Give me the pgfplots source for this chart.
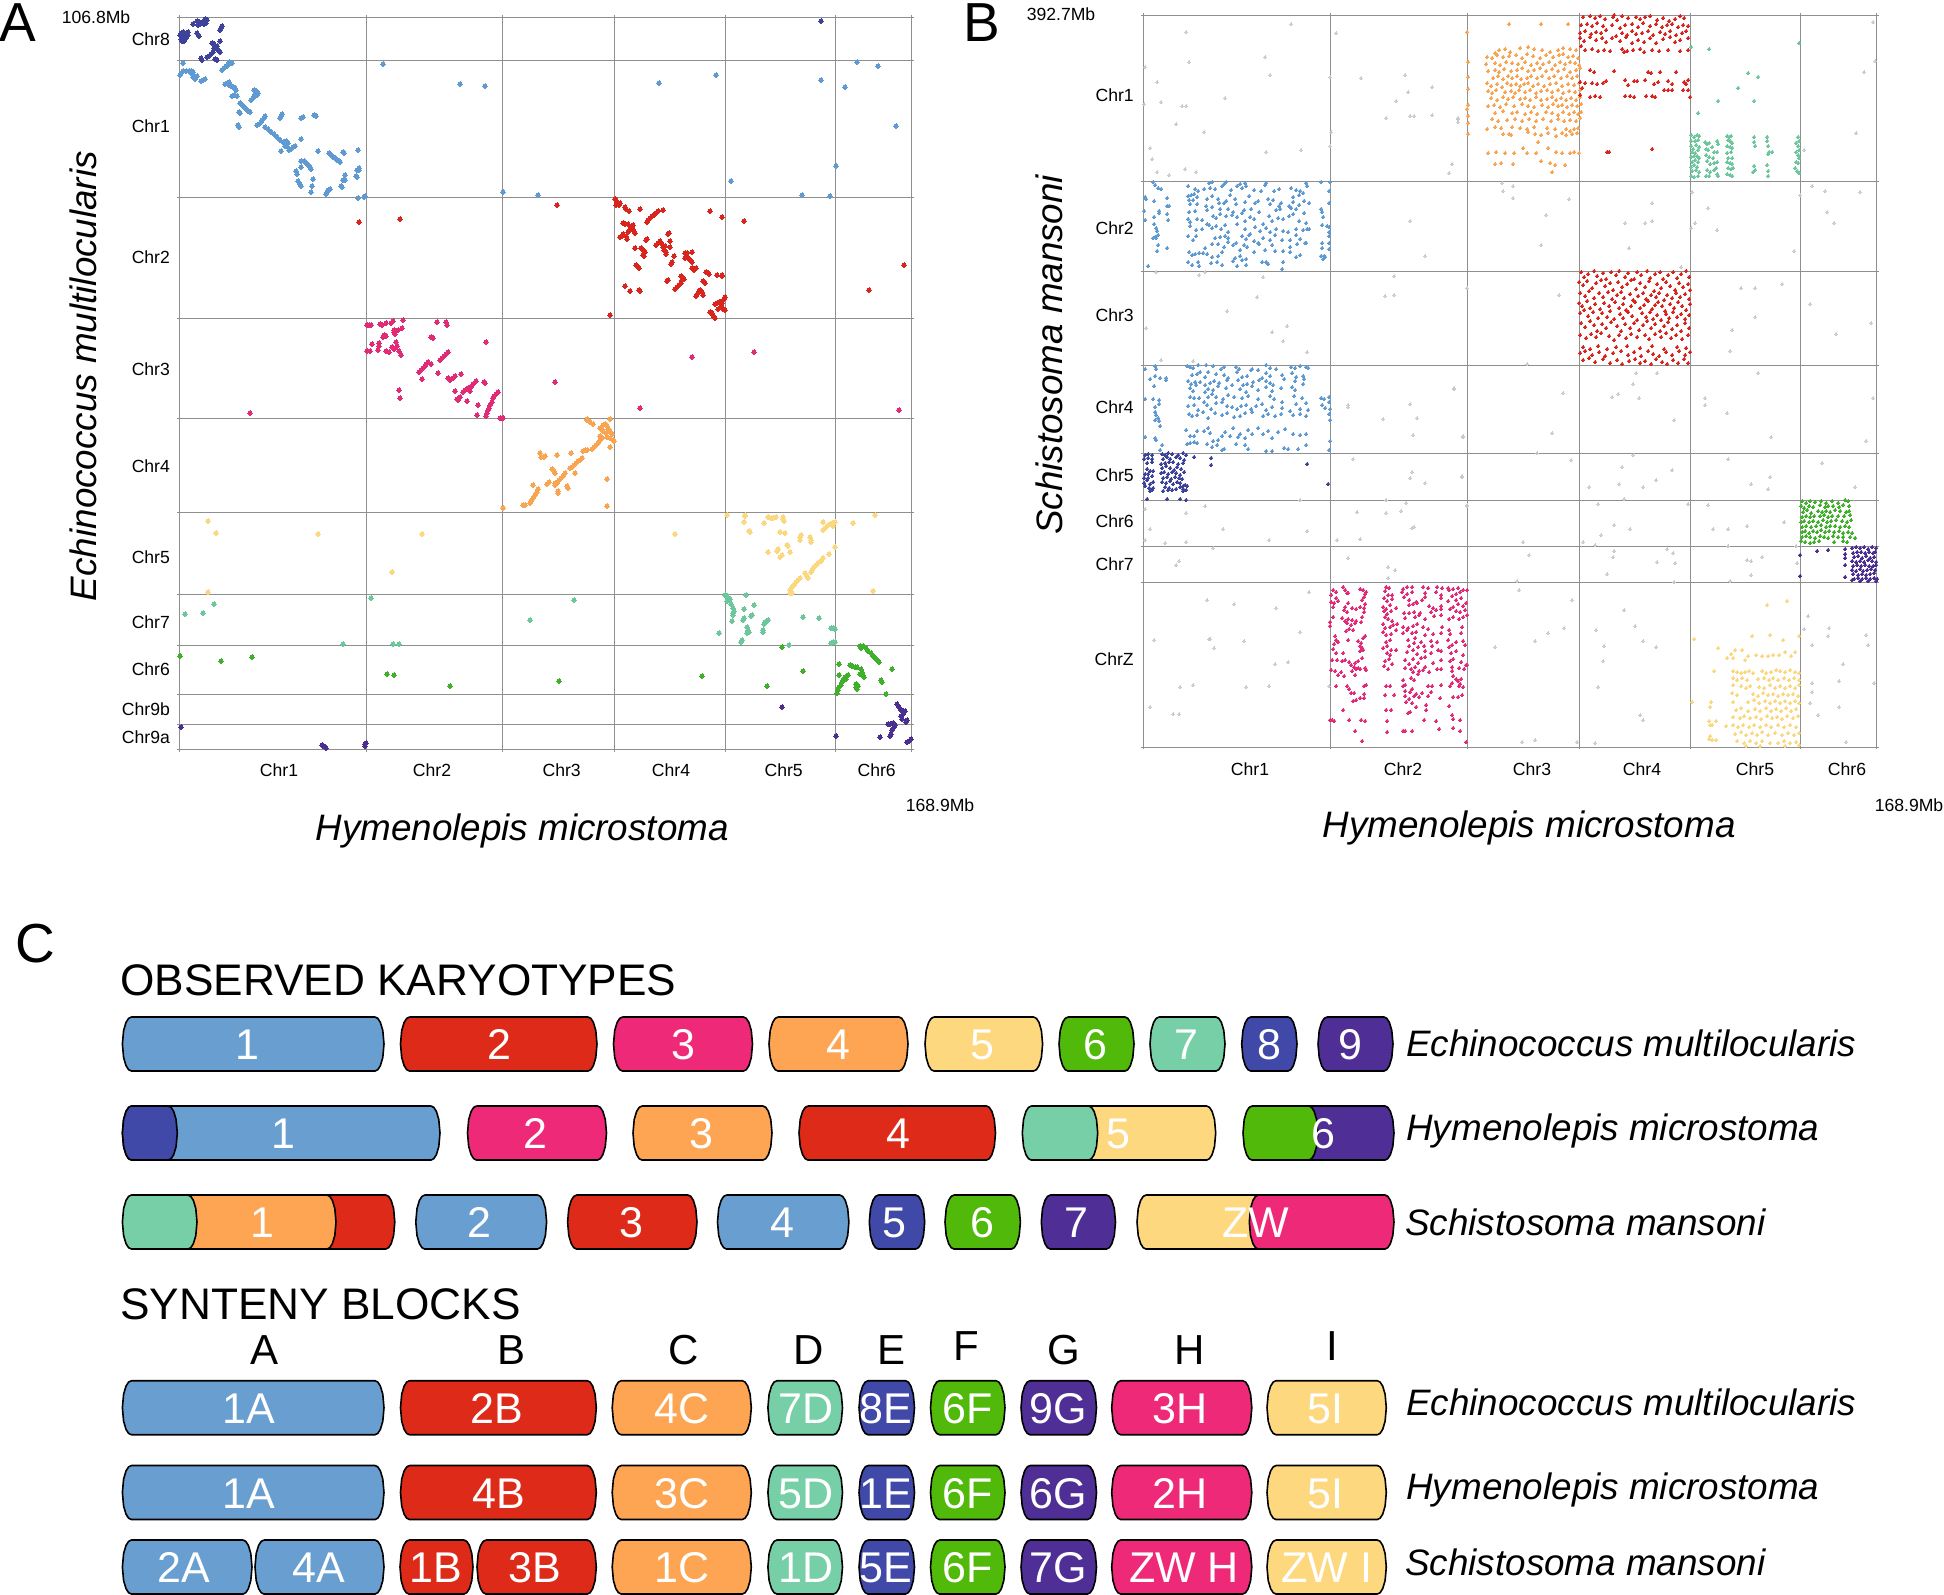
\documentclass[border=0pt]{standalone}
\usepackage{pgfplots}
\usepackage{pgfplotstable}
\pgfplotsset{compat=1.18}
\usepackage{fontspec}
\setmainfont{Liberation Sans}
\definecolor{cblue}{HTML}{699ED1}
\definecolor{cred}{HTML}{DE2A18}
\definecolor{cpink}{HTML}{EE2A78}
\definecolor{corange}{HTML}{FDA552}
\definecolor{cyellow}{HTML}{FDD87E}
\definecolor{cgreen}{HTML}{50B90A}
\definecolor{cteal}{HTML}{76CFA6}
\definecolor{cnavy}{HTML}{4048A8}
\definecolor{cpurple}{HTML}{4F2E96}
\definecolor{dblue}{HTML}{5F9AD2}
\definecolor{dred}{HTML}{D8261F}
\definecolor{dpink}{HTML}{E22B77}
\definecolor{dorange}{HTML}{F9A450}
\definecolor{dyellow}{HTML}{FBD77F}
\definecolor{dgreen}{HTML}{40B02C}
\definecolor{dteal}{HTML}{6DC79D}
\definecolor{dnavy}{HTML}{3D429B}
\definecolor{dpurple}{HTML}{4B2E91}
\definecolor{dgrey}{HTML}{C9C9C9}
\definecolor{gridc}{HTML}{8F8F8F}
\newcommand{\ticksz}{\fontsize{8.8}{10}\selectfont}
\newcommand{\spsz}{\fontsize{18.4}{20}\selectfont\itshape}
\newcommand{\barsz}{\fontsize{21.5}{24}\selectfont}
\pgfplotstableread{
s i v
0 9 -1
0 6.2 -0.95
0 3.6 -0.8
0 1.2 -0.5
0 0 0
0 1.2 0.5
0 3.6 0.8
0 6.2 0.95
0 9 1
1 9 1
1 6.2 0.95
1 3.6 0.8
1 1.2 0.5
1 0 0
1 1.2 -0.5
1 3.6 -0.8
1 6.2 -0.95
1 9 -1
0 9 -1
}\barrelshape
\newcommand{\chrbar}[4]{\addplot[fill=#4,draw=black,line width=.8pt,line join=round] table[x expr={#1+(#2-#1)*\thisrow{s}+\thisrow{i}*(1-2*\thisrow{s})},y expr={#3+27*\thisrow{v}}] {\barrelshape};}
\newcommand{\barlabel}[3]{\node[text=white,font=\barsz,anchor=base,inner sep=0pt] at (axis cs:#1,#2+15.5) {#3};}
\pgfplotsset{
 dotA/.style={only marks,mark=*,mark size=1.1pt,line width=0pt,color=#1},
 dotB/.style={only marks,mark=*,mark size=.88pt,line width=0pt,color=#1},
 dotG/.style={only marks,mark=*,mark size=.62pt,line width=0pt,color=dgrey},
 dotplot/.style={
  scale only axis,y dir=reverse,clip=false,
  axis line style={gridc,line width=.35pt},
  major tick length=0pt,minor tick length=1.2pt,
  xminorgrids=true,yminorgrids=true,
  minor grid style={gridc,line width=.35pt},
  minor tick style={gridc,line width=.35pt},
  tick align=outside,
  xticklabel style={font=\ticksz,inner sep=0pt,anchor=center,yshift=-10pt},
  yticklabel style={font=\ticksz,inner sep=0pt,anchor=east,xshift=-4.6pt},
  xlabel style={font=\spsz,anchor=center,inner sep=0pt},
  ylabel style={font=\spsz,anchor=center,inner sep=0pt},
 }
}
\begin{document}
\begin{tikzpicture}[x=1pt,y=1pt]
\path[use as bounding box] (0,0) rectangle (972pt,-797.5pt);
% ---------- Panel A
\begin{axis}[dotplot,at={(89.75pt,-374.85pt)},width=366.1pt,height=366.35pt,
 xmin=179.5,xmax=911.7,ymin=17,ymax=749.7,
 minor xtick={179.5,366,502.7,614.7,725.7,835.3,911.7},
 minor ytick={17,60.5,197.3,318.7,418.3,512.7,594.3,645.3,694.7,724,749.7},
 xtick={279,432,561.7,671,783.7,876.7},xticklabels={Chr1,Chr2,Chr3,Chr4,Chr5,Chr6},
 ytick={39.5,126,256.7,369,465.7,556.7,622,669,708.7,736.7},
 yticklabels={Chr8,Chr1,Chr2,Chr3,Chr4,Chr5,Chr7,Chr6,Chr9b,Chr9a},
 xlabel={Hymenolepis microstoma},ylabel={Echinococcus multilocularis},
 xlabel style={at={(axis description cs:0.468,-0.111)}},
 ylabel style={at={(axis description cs:-0.131,0.51)}},
]
\addplot[dotA=dnavy] coordinates {(180,35)(181,33)(181,39)(183,36)(184,41)(183,32)(186,38)(186,33)(188,32)(188,35)(182,41)(185,34)(193,24)(197,21)(198,25)(200,24)(203,22)(204,24)(206,23)(207,20)(205,19)(199,22)(220,30)(221,28)(222,26)(197,33)(199,36)(212,43)(214,44)(216,47)(218,50)(220,52)(217,46)(214,48)(220,41)(201,58)(202,60)(207,57)(209,56)(211,54)(213,52)(217,60)(215,59)(821,21)};
\addplot[dotA=dblue] coordinates {(183,63)(180,75)(181,73)(183,71)(186,71)(189,71)(191,71)(193,72)(192,74)(193,77)(195,79)(197,76)(201,81)(203,80)(205,79)(222,70)(224,68)(226,66)(228,64)(230,63)(232,63)(229,62)(227,66)(225,84)(227,83)(229,85)(231,86)(233,87)(235,88)(236,90)(229,82)(232,96)(234,95)(237,96)(240,103)(242,105)(244,107)(246,109)(248,111)(250,112)(240,113)(239,112)(238,125)(239,127)(251,100)(253,98)(254,96)(255,94)(256,92)(254,90)(256,91)(258,93)(257,95)(257,125)(259,124)(261,122)(262,120)(264,118)(265,116)(265,127)(268,129)(271,132)(274,134)(277,137)(280,140)(283,142)(285,144)(287,146)(288,143)(286,141)(285,146)(280,118)(281,116)(282,114)(301,118)(303,117)(314,115)(316,116)(301,139)(281,151)(289,150)(291,149)(293,147)(295,146)(318,151)(329,153)(331,155)(333,157)(335,158)(337,160)(339,161)(340,162)(343,152)(344,153)(358,150)(301,161)(304,161)(306,163)(308,165)(310,167)(311,169)(301,167)(296,171)(297,174)(357,170)(359,168)(359,170)(357,177)(356,176)(345,175)(343,180)(345,180)(342,187)(341,186)(313,179)(298,181)(300,184)(301,186)(312,186)(311,192)(326,194)(327,192)(328,190)(330,189)(358,198)(364,197)(365,196)(383,64)(460,84)(485,86)(503,192)(538,195)(659,83)(716,75)(821,80)(845,87)(857,62)(878,66)(896,126)(836,166)(731,181)(802,195)(830,196)};
\addplot[dotA=dred] coordinates {(615,199)(616,200)(617,202)(618,204)(619,205)(620,203)(616,205)(625,207)(626,209)(629,211)(640,209)(647,222)(648,220)(650,218)(652,216)(654,215)(656,213)(658,211)(655,214)(663,210)(710,211)(722,217)(744,221)(623,223)(625,224)(628,224)(628,232)(630,229)(632,227)(633,225)(631,228)(634,231)(635,233)(620,237)(622,236)(623,234)(626,236)(627,239)(646,240)(647,239)(669,233)(668,234)(670,241)(670,247)(656,245)(658,243)(660,241)(662,244)(663,247)(665,246)(664,250)(666,252)(666,254)(635,248)(641,248)(643,250)(645,252)(643,255)(644,256)(674,256)(671,264)(672,262)(636,265)(638,267)(639,268)(685,253)(687,253)(692,252)(686,256)(685,258)(688,258)(690,260)(692,262)(692,268)(694,270)(696,268)(706,272)(708,273)(709,274)(717,275)(722,275)(722,276)(667,281)(668,280)(675,289)(677,287)(679,285)(681,283)(682,280)(681,276)(683,278)(684,279)(703,281)(705,283)(696,296)(698,293)(699,291)(702,292)(703,295)(700,290)(625,286)(630,291)(639,290)(640,291)(715,304)(717,303)(719,302)(722,301)(724,299)(725,297)(722,303)(718,309)(721,306)(723,309)(725,310)(722,307)(710,312)(712,313)(713,315)(714,317)(715,318)(359,222)(400,219)(557,205)(610,315)(869,290)(904,265)};
\addplot[dotA=dpink] coordinates {(367,325)(369,325)(371,325)(380,324)(382,325)(386,323)(391,323)(393,321)(403,320)(394,330)(396,331)(398,330)(402,328)(395,334)(394,332)(384,335)(386,336)(383,337)(447,325)(446,322)(437,322)(431,337)(433,338)(372,344)(379,343)(379,346)(367,351)(370,351)(378,350)(386,351)(389,352)(392,347)(394,349)(396,342)(397,346)(399,351)(401,355)(486,342)(419,372)(421,370)(423,368)(425,366)(426,364)(428,362)(431,364)(440,360)(442,358)(444,356)(446,354)(448,352)(438,373)(422,379)(448,378)(450,380)(453,378)(455,376)(461,374)(399,390)(400,398)(455,391)(457,399)(460,397)(458,400)(463,392)(465,390)(468,388)(471,387)(473,384)(476,381)(470,391)(467,401)(484,382)(485,383)(478,405)(498,392)(496,394)(494,396)(493,398)(492,402)(490,405)(489,408)(488,410)(487,413)(486,416)(477,415)(555,382)(640,408)(692,357)(754,352)(899,410)(250,413)(500,418)(502,418)(503,418)};
\addplot[dotA=dorange] coordinates {(587,419)(610,419)(587,420)(590,422)(593,424)(603,425)(605,424)(607,426)(600,428)(603,431)(606,433)(608,429)(610,431)(612,434)(600,436)(602,438)(607,437)(610,438)(613,440)(614,441)(600,440)(598,443)(596,445)(594,447)(592,449)(610,447)(583,451)(585,450)(587,450)(582,458)(580,460)(578,461)(576,463)(574,465)(572,467)(570,468)(571,453)(557,455)(540,453)(541,457)(544,457)(545,456)(552,469)(554,471)(555,473)(575,473)(555,485)(557,483)(559,480)(561,478)(563,476)(565,473)(555,483)(547,484)(549,482)(567,486)(568,488)(533,485)(558,491)(558,493)(538,489)(537,492)(535,495)(533,498)(531,501)(530,503)(523,505)(525,505)(503,508)(607,479)(607,506)};
\addplot[dotA=dyellow] coordinates {(208,521)(216,533)(318,534)(422,534)(392,572)(208,592)(675,534)(727,515)(745,516)(745,515)(744,522)(750,532)(749,531)(764,523)(768,517)(771,518)(773,518)(776,517)(783,517)(783,519)(784,521)(780,532)(785,533)(823,522)(823,530)(825,528)(827,526)(830,524)(832,523)(835,522)(833,526)(853,523)(875,515)(800,537)(801,535)(800,540)(810,537)(811,540)(811,542)(787,545)(788,546)(777,551)(778,549)(768,552)(780,557)(782,555)(790,552)(835,547)(829,554)(823,558)(821,561)(818,563)(816,565)(814,567)(812,570)(811,572)(805,573)(807,576)(808,578)(800,578)(798,580)(796,582)(794,585)(792,587)(793,586)(790,590)(790,593)(792,593)(873,591)};
\addplot[dotA=dteal] coordinates {(185,614)(203,613)(214,604)(371,598)(343,644)(393,644)(399,644)(574,600)(530,620)(719,633)(725,595)(727,596)(728,598)(727,601)(730,599)(731,604)(733,608)(734,611)(733,613)(733,615)(746,595)(754,605)(744,609)(751,616)(752,615)(732,621)(743,620)(744,618)(747,627)(748,630)(747,633)(749,632)(763,630)(763,632)(764,624)(765,622)(767,621)(768,620)(741,642)(742,640)(803,617)(819,618)(831,628)(833,628)(835,629)(831,643)(833,642)(835,642)(789,645)};
\addplot[dotA=dgreen] coordinates {(180,656)(221,661)(252,657)(387,674)(394,675)(450,686)(559,681)(702,676)(767,686)(803,671)(782,647)(860,646)(863,646)(866,648)(868,651)(871,653)(873,656)(875,658)(877,660)(879,662)(861,648)(839,664)(850,665)(852,666)(855,667)(857,667)(892,669)(861,669)(862,672)(860,674)(863,675)(864,677)(839,675)(845,677)(847,676)(846,679)(848,675)(843,680)(837,693)(838,690)(839,687)(841,685)(842,682)(856,684)(858,686)(857,689)(856,687)(881,680)(882,682)(886,694)};
\addplot[dotA=dpurple] coordinates {(782,707)(897,704)(899,707)(901,710)(903,711)(903,714)(905,711)(901,716)(902,719)(906,722)(907,720)(888,724)(890,724)(895,725)(893,723)(891,734)(892,730)(894,727)(890,736)(880,737)(836,736)(909,741)(911,739)(907,742)(181,727)(322,745)(323,746)(325,747)(326,748)(365,744)(365,746)(366,743)};
\end{axis}
% ---------- Panel B
\begin{axis}[dotplot,at={(571.65pt,-373.5pt)},width=366.7pt,height=365.85pt,
 xmin=1143.3,xmax=1876.7,ymin=15.3,ymax=747,
 minor xtick={1143.3,1330.3,1467.3,1579.3,1690,1800.3,1876.7},
 minor ytick={15.3,181.7,271,365,453,500.3,546.7,582.7,747},
 xtick={1250,1403,1532,1642,1755,1847},xticklabels={Chr1,Chr2,Chr3,Chr4,Chr5,Chr6},
 ytick={95,227.7,315,406.7,475,521.3,564,659.3},
 yticklabels={Chr1,Chr2,Chr3,Chr4,Chr5,Chr6,Chr7,ChrZ},
 xticklabel style={yshift=-1pt},
 xlabel={Hymenolepis microstoma},ylabel={Schistosoma mansoni},
 xlabel style={at={(axis description cs:0.526,-0.11)}},
 ylabel style={at={(axis description cs:-0.1286,0.536)}},
]
\addplot[dotG] coordinates {(1291,24)(1186,32)(1336,33)(1265,57)(1189,62)(1145,67)(1270,75)(1330,77)(1361,78)(1405,75)(1157,82)(1432,87)(1408,92)(1225,98)(1396,101)(1161,102)(1144,104)(1182,106)(1186,106)(1410,116)(1414,116)(1432,115)(1386,118)(1458,118)(1458,122)(1176,124)(1204,132)(1331,132)(1150,148)(1330,146)(1266,152)(1301,150)(1152,159)(1452,164)(1185,169)(1157,172)(1196,172)(1169,175)(1449,173)(1410,221)(1425,256)(1156,272)(1199,275)(1205,272)(1263,277)(1394,276)(1467,288)(1385,296)(1394,295)(1257,297)(1227,311)(1146,328)(1287,326)(1272,332)(1283,341)(1307,352)(1161,360)(1193,361)(1454,389)(1348,405)(1348,407)(1410,404)(1383,419)(1417,418)(1413,435)(1463,437)(1353,459)(1412,472)(1410,478)(1425,483)(1462,477)(1300,500)(1386,500)(1406,503)(1401,511)(1357,512)(1386,513)(1145,509)(1186,513)(1205,506)(1467,506)(1150,529)(1223,529)(1307,531)(1412,528)(1414,527)(1145,540)(1165,543)(1186,542)(1269,540)(1337,540)(1360,539)(1213,548)(1348,558)(1179,561)(1176,565)(1388,567)(1395,570)(1388,578)(1309,592)(1207,600)(1234,604)(1276,608)(1300,632)(1154,640)(1210,639)(1209,639)(1244,641)(1214,648)(1275,664)(1288,662)(1180,687)(1193,685)(1246,687)(1269,686)(1329,686)(1150,707)(1173,714)(1179,714)(1873,22)(1875,61)(1864,72)(1856,133)(1804,150)(1458,119)(1452,164)(1502,183)(1513,186)(1503,191)(1513,198)(1569,199)(1546,215)(1541,245)(1652,203)(1625,223)(1645,223)(1652,221)(1629,248)(1692,192)(1708,208)(1695,223)(1691,228)(1717,230)(1794,251)(1812,186)(1825,191)(1860,192)(1827,212)(1834,223)(1800,195)(1467,288)(1559,295)(1741,288)(1755,288)(1782,284)(1755,317)(1732,330)(1730,351)(1810,304)(1871,323)(1836,334)(1681,267)(1527,364)(1454,388)(1563,393)(1463,436)(1552,433)(1636,373)(1657,373)(1633,384)(1612,397)(1618,394)(1639,398)(1674,420)(1758,373)(1705,398)(1705,405)(1727,413)(1771,437)(1873,398)(1866,441)(1537,453)(1571,460)(1462,476)(1633,455)(1622,467)(1672,470)(1589,487)(1619,484)(1656,480)(1643,487)(1728,459)(1770,477)(1751,484)(1768,489)(1822,463)(1855,487)(1624,499)(1467,505)(1523,542)(1529,555)(1598,504)(1688,504)(1614,525)(1601,535)(1630,529)(1583,542)(1595,545)(1708,505)(1713,529)(1728,529)(1747,526)(1784,522)(1728,546)(1614,551)(1613,557)(1657,562)(1667,549)(1673,553)(1675,563)(1607,574)(1674,582)(1517,581)(1747,560)(1751,561)(1762,557)(1751,575)(1730,581)(1796,546)(1797,563)(1519,590)(1572,600)(1624,610)(1635,626)(1564,628)(1548,633)(1535,641)(1495,647)(1596,630)(1643,641)(1656,647)(1604,646)(1603,661)(1598,687)(1640,715)(1643,720)(1522,742)(1535,740)(1577,742)(1595,743)(1808,616)(1804,629)(1829,628)(1828,636)(1812,645)(1866,635)(1868,645)(1843,664)(1839,681)(1874,683)(1812,683)(1812,692)(1810,703)(1839,707)(1818,715)(1846,742)};
\addplot[dotB=dblue] coordinates {(1145,197)(1146,199)(1144,211)(1145,220)(1154,201)(1153,182)(1155,185)(1158,188)(1161,189)(1167,198)(1167,206)(1169,206)(1159,211)(1159,213)(1167,214)(1168,220)(1154,217)(1154,224)(1156,228)(1157,231)(1158,235)(1155,237)(1156,238)(1153,238)(1158,245)(1157,251)(1167,248)(1148,266)(1209,183)(1212,182)(1224,184)(1226,182)(1237,186)(1240,184)(1245,183)(1242,188)(1246,186)(1266,183)(1265,185)(1306,183)(1307,186)(1188,186)(1195,189)(1198,191)(1204,189)(1210,188)(1215,189)(1222,186)(1231,190)(1254,190)(1261,191)(1274,191)(1279,189)(1291,188)(1296,190)(1300,191)(1188,196)(1191,195)(1194,194)(1189,200)(1193,200)(1197,197)(1207,199)(1212,196)(1218,199)(1224,203)(1230,195)(1235,199)(1249,196)(1268,199)(1273,200)(1281,203)(1293,197)(1299,195)(1303,193)(1190,204)(1197,204)(1206,206)(1219,203)(1226,201)(1236,204)(1245,202)(1255,203)(1258,201)(1270,204)(1279,206)(1289,206)(1293,202)(1299,205)(1304,201)(1309,203)(1189,212)(1195,211)(1207,210)(1212,207)(1220,209)(1228,209)(1233,212)(1244,210)(1251,209)(1259,212)(1276,210)(1280,209)(1291,208)(1296,209)(1304,213)(1188,219)(1190,222)(1197,219)(1202,220)(1207,224)(1213,216)(1216,218)(1220,214)(1226,216)(1232,215)(1237,217)(1242,213)(1245,221)(1250,217)(1254,219)(1263,224)(1269,216)(1272,221)(1278,218)(1283,219)(1289,216)(1293,214)(1299,221)(1306,223)(1309,229)(1190,226)(1196,230)(1202,229)(1209,225)(1212,228)(1216,226)(1221,229)(1225,225)(1228,232)(1237,224)(1245,229)(1250,234)(1255,227)(1260,231)(1266,228)(1270,232)(1276,229)(1283,231)(1288,232)(1296,229)(1303,230)(1307,229)(1188,236)(1193,240)(1196,236)(1215,238)(1220,237)(1225,236)(1228,238)(1242,236)(1246,239)(1249,235)(1254,241)(1258,243)(1263,238)(1270,240)(1275,235)(1282,240)(1290,240)(1296,235)(1300,239)(1306,243)(1205,248)(1212,244)(1218,244)(1224,247)(1228,242)(1233,245)(1236,243)(1240,250)(1244,245)(1247,247)(1259,244)(1265,250)(1272,245)(1283,251)(1290,247)(1297,244)(1305,243)(1189,252)(1192,255)(1195,254)(1199,253)(1203,253)(1207,254)(1212,257)(1218,256)(1222,252)(1235,258)(1240,256)(1246,259)(1254,252)(1266,262)(1275,251)(1290,252)(1296,257)(1300,255)(1188,262)(1192,265)(1198,262)(1199,266)(1211,263)(1217,262)(1222,265)(1233,261)(1237,266)(1242,260)(1246,265)(1262,262)(1268,264)(1283,262)(1321,182)(1330,182)(1329,191)(1329,203)(1321,209)(1322,212)(1323,217)(1322,225)(1327,226)(1329,227)(1329,232)(1329,236)(1322,243)(1329,243)(1322,248)(1329,249)(1321,256)(1324,256)(1323,259)(1325,257)(1282,269)
(1145,369)(1155,366)(1156,369)(1150,379)(1155,376)(1160,378)(1166,378)(1166,380)(1154,386)(1145,399)(1153,399)(1159,404)(1159,400)(1155,407)(1155,412)(1156,415)(1158,418)(1155,420)(1159,421)(1145,437)(1155,438)(1160,426)(1162,445)(1156,440)(1187,366)(1190,367)(1193,368)(1198,365)(1206,365)(1213,366)(1221,369)(1224,367)(1236,367)(1239,369)(1252,369)(1258,370)(1266,365)(1270,368)(1276,369)(1291,367)(1295,368)(1300,366)(1306,367)(1308,368)(1192,375)(1197,374)(1200,372)(1205,377)(1208,372)(1216,374)(1224,375)(1228,378)(1237,372)(1242,377)(1247,376)(1251,370)(1262,378)(1266,373)(1270,376)(1282,375)(1292,373)(1296,377)(1303,376)(1188,381)(1191,384)(1195,382)(1200,382)(1205,385)(1210,383)(1214,381)(1219,383)(1227,380)(1238,380)(1243,385)(1247,384)(1253,382)(1259,380)(1266,381)(1270,383)(1273,385)(1284,379)(1295,381)(1304,379)(1190,388)(1193,391)(1196,385)(1205,392)(1208,389)(1213,390)(1218,386)(1226,388)(1232,385)(1240,389)(1246,392)(1252,386)(1258,390)(1266,387)(1272,391)(1281,388)(1292,387)(1295,390)(1303,384)(1190,397)(1194,398)(1199,398)(1208,397)(1212,394)(1216,397)(1223,399)(1228,395)(1234,397)(1242,398)(1248,396)(1258,399)(1270,396)(1274,399)(1282,402)(1294,396)(1302,398)(1188,406)(1194,405)(1198,410)(1204,402)(1207,405)(1211,409)(1216,403)(1222,402)(1227,406)(1232,407)(1237,409)(1241,406)(1246,405)(1251,409)(1256,406)(1262,404)(1266,410)(1272,407)(1282,408)(1290,411)(1296,404)(1300,409)(1306,403)(1308,410)(1189,414)(1192,416)(1197,415)(1203,412)(1208,418)(1215,413)(1222,415)(1227,413)(1234,417)(1240,416)(1245,413)(1252,412)(1263,416)(1268,414)(1275,416)(1281,414)(1293,415)(1300,414)(1306,416)(1186,430)(1190,436)(1194,436)(1197,431)(1204,431)(1208,428)(1210,433)(1213,441)(1218,440)(1222,436)(1225,432)(1230,436)(1233,428)(1238,437)(1240,434)(1245,438)(1248,430)(1252,434)(1258,428)(1263,434)(1268,431)(1272,438)(1278,432)(1285,429)(1293,434)(1300,435)(1306,434)(1187,444)(1190,443)(1194,442)(1197,443)(1207,444)(1212,447)(1217,445)(1222,450)(1224,449)(1236,444)(1245,445)(1248,449)(1266,451)(1272,451)(1284,448)(1288,449)(1298,449)(1306,445)(1322,405)(1325,408)(1329,414)(1330,420)(1321,398)(1324,399)(1329,397)(1329,402)(1330,409)(1330,441)(1329,450)(1160,450)};
\addplot[dotB=dnavy] coordinates {(1145,455)(1148,454)(1152,455)(1144,459)(1148,458)(1152,459)(1147,463)(1152,462)(1147,469)(1150,471)(1153,471)(1145,474)(1148,474)(1144,478)(1148,478)(1152,476)(1144,483)(1147,480)(1150,484)(1153,482)(1145,486)(1149,488)(1152,490)(1150,491)(1153,488)(1147,499)(1162,454)(1165,455)(1168,453)(1172,454)(1178,455)(1183,453)(1186,455)(1163,459)(1167,457)(1170,459)(1176,457)(1180,458)(1184,460)(1161,464)(1165,463)(1169,462)(1173,462)(1178,464)(1183,463)(1162,468)(1166,466)(1170,468)(1174,470)(1177,467)(1181,469)(1161,473)(1164,472)(1168,474)(1172,472)(1176,473)(1180,475)(1184,472)(1163,478)(1167,477)(1171,479)(1175,477)(1179,478)(1182,479)(1162,482)(1166,483)(1170,481)(1173,484)(1177,482)(1180,483)(1183,486)(1185,485)(1187,486)(1165,487)(1169,488)(1172,490)(1176,489)(1180,487)(1183,489)(1186,490)(1163,491)(1168,490)(1183,491)(1167,499)(1180,499)(1186,500)(1194,457)(1211,458)(1211,465)(1307,464)(1328,484)};
\addplot[dotB=dgreen] coordinates {(1802,501)(1806,503)(1810,501)(1815,502)(1821,501)(1826,503)(1832,501)(1838,503)(1845,500)(1848,501)(1801,506)(1804,508)(1809,506)(1813,507)(1820,505)(1825,507)(1828,506)(1833,506)(1839,507)(1843,505)(1849,506)(1803,512)(1807,510)(1811,513)(1818,511)(1822,512)(1826,511)(1830,512)(1835,510)(1840,511)(1846,512)(1849,511)(1802,517)(1806,516)(1810,517)(1814,516)(1820,516)(1824,515)(1828,517)(1832,516)(1838,516)(1844,516)(1850,515)(1801,522)(1804,521)(1809,522)(1813,521)(1818,522)(1823,520)(1827,522)(1831,521)(1836,520)(1842,521)(1847,522)(1851,520)(1802,527)(1806,526)(1811,527)(1816,526)(1821,525)(1826,527)(1830,526)(1835,526)(1840,527)(1845,526)(1849,527)(1802,532)(1805,531)(1809,533)(1813,531)(1817,532)(1821,530)(1825,532)(1829,531)(1834,532)(1839,531)(1843,533)(1848,532)(1852,533)(1802,537)(1806,536)(1810,537)(1815,538)(1820,536)(1824,537)(1828,538)(1833,536)(1838,537)(1843,537)(1850,537)(1855,538)(1801,541)(1805,542)(1810,543)(1814,542)(1819,541)(1834,542)(1843,541)(1847,542)};
\addplot[dotB=dpurple] coordinates {(1800,555)(1817,551)(1828,550)(1800,576)(1845,549)(1845,554)(1845,558)(1845,565)(1845,577)(1852,548)(1856,547)(1860,548)(1864,547)(1868,549)(1872,547)(1876,548)(1853,553)(1857,552)(1861,552)(1865,553)(1869,552)(1873,553)(1875,552)(1854,557)(1858,556)(1862,558)(1866,556)(1870,558)(1874,557)(1852,561)(1856,562)(1860,561)(1864,562)(1868,560)(1872,561)(1876,562)(1853,566)(1857,565)(1861,566)(1865,565)(1869,566)(1873,566)(1876,565)(1852,570)(1856,571)(1860,569)(1863,571)(1867,570)(1871,569)(1875,570)(1853,574)(1858,575)(1862,574)(1866,575)(1870,574)(1874,573)(1854,579)(1858,578)(1862,579)(1866,578)(1870,579)(1874,578)(1877,579)(1852,580)(1860,581)(1868,581)(1876,581)};
\addplot[dotB=dteal] coordinates {(1691,47)(1709,49)(1799,43)(1748,73)(1758,77)(1738,88)(1718,101)(1754,101)(1698,113)(1691,135)(1694,137)(1697,135)(1699,136)(1691,141)(1695,141)(1698,140)(1691,146)(1693,149)(1696,145)(1699,147)(1692,152)(1695,153)(1698,150)(1691,157)(1694,156)(1697,156)(1699,158)(1692,162)(1695,160)(1698,162)(1691,167)(1694,165)(1697,167)(1692,171)(1696,170)(1699,172)(1691,176)(1694,177)(1698,176)(1705,142)(1707,144)(1709,143)(1717,141)(1718,144)(1706,149)(1708,150)(1712,147)(1714,152)(1717,152)(1706,155)(1709,157)(1713,158)(1707,161)(1710,164)(1714,163)(1717,162)(1707,170)(1710,172)(1714,170)(1716,168)(1706,176)(1709,176)(1717,174)(1718,176)(1727,136)(1729,137)(1731,136)(1728,140)(1730,141)(1732,143)(1727,146)(1730,147)(1732,148)(1727,153)(1731,152)(1728,158)(1732,158)(1727,162)(1730,163)(1732,164)(1728,168)(1731,169)(1733,168)(1727,174)(1730,175)(1732,176)(1754,137)(1754,142)(1755,146)(1754,166)(1755,170)(1753,172)(1767,137)(1767,141)(1768,146)(1772,152)(1768,154)(1767,165)(1768,171)(1768,176)(1769,152)(1798,137)(1799,141)(1796,143)(1798,146)(1799,150)(1796,152)(1798,155)(1799,158)(1796,162)(1798,163)(1795,168)(1797,171)(1799,173)};
\addplot[dotB=dorange] coordinates {(1509,24)(1541,24)(1568,24)(1467,32)(1468,62)(1468,77)(1468,89)(1468,105)(1467,109)(1468,116)(1468,123)(1468,134)(1495,53)(1499,50)(1505,49)(1510,52)(1520,48)(1528,47)(1534,49)(1542,50)(1550,52)(1558,50)(1563,48)(1570,49)(1576,50)(1487,57)(1492,58)(1497,55)(1503,57)(1509,56)(1516,55)(1522,58)(1527,54)(1533,56)(1540,58)(1546,55)(1553,57)(1559,55)(1563,54)(1568,57)(1573,56)(1578,58)(1486,64)(1495,63)(1500,65)(1506,62)(1512,63)(1518,64)(1525,62)(1531,65)(1537,63)(1543,64)(1549,62)(1555,65)(1560,62)(1565,64)(1570,62)(1575,63)(1579,65)(1488,71)(1495,70)(1499,72)(1504,69)(1511,71)(1517,70)(1522,68)(1528,71)(1534,70)(1540,68)(1546,71)(1552,69)(1558,71)(1564,69)(1570,72)(1576,70)(1580,68)(1493,78)(1498,76)(1503,79)(1508,76)(1512,78)(1517,76)(1521,79)(1527,78)(1531,76)(1537,78)(1542,76)(1549,78)(1554,76)(1561,78)(1567,76)(1572,78)(1577,76)(1487,83)(1491,86)(1497,84)(1502,87)(1507,83)(1511,85)(1516,84)(1520,86)(1524,84)(1528,83)(1533,86)(1538,84)(1544,86)(1550,84)(1556,83)(1562,86)(1568,84)(1574,85)(1579,83)(1488,91)(1492,93)(1496,90)(1505,92)(1511,91)(1515,93)(1519,90)(1525,92)(1530,90)(1536,93)(1541,91)(1547,90)(1552,92)(1558,90)(1563,93)(1569,91)(1575,92)(1580,90)(1491,98)(1497,100)(1503,97)(1508,99)(1513,97)(1520,99)(1525,98)(1530,100)(1536,97)(1541,100)(1547,99)(1552,97)(1556,100)(1561,98)(1566,100)(1571,98)(1576,100)(1580,97)(1488,106)(1494,105)(1500,107)(1506,104)(1514,106)(1522,104)(1528,106)(1534,107)(1542,105)(1548,107)(1553,104)(1558,106)(1562,105)(1567,107)(1572,105)(1577,106)(1581,104)(1495,113)(1503,111)(1512,113)(1517,112)(1525,114)(1531,112)(1537,114)(1546,112)(1552,113)(1558,115)(1563,112)(1569,114)(1574,112)(1578,114)(1581,112)(1492,119)(1498,121)(1507,120)(1515,119)(1522,121)(1529,119)(1536,121)(1543,119)(1551,121)(1558,119)(1564,121)(1570,120)(1576,121)(1580,118)(1487,129)(1495,127)(1501,128)(1509,134)(1512,127)(1520,128)(1527,129)(1534,127)(1541,135)(1547,128)(1555,129)(1562,133)(1566,129)(1570,131)(1574,129)(1578,128)(1503,134)(1511,135)(1528,132)(1535,134)(1548,133)(1556,136)(1566,135)(1572,134)(1577,133)(1538,142)(1548,148)(1523,148)(1488,153)(1496,152)(1505,153)(1514,153)(1527,153)(1536,153)(1556,152)(1562,153)(1570,153)(1574,152)(1579,153)(1495,164)(1501,163)(1513,164)(1541,161)(1550,163)(1555,165)(1552,172)(1565,165)};
\addplot[dotB=dred] coordinates {(1583,17)(1590,16)(1595,18)(1600,16)(1605,19)(1613,17)(1617,20)(1622,16)(1628,18)(1636,17)(1640,19)(1645,17)(1657,20)(1663,18)(1669,21)(1675,19)(1680,16)(1684,18)(1614,15)(1650,16)(1581,25)(1587,24)(1592,26)(1597,23)(1603,26)(1612,25)(1620,28)(1625,25)(1632,24)(1638,27)(1643,23)(1650,26)(1656,24)(1662,27)(1667,25)(1672,24)(1678,27)(1683,25)(1688,26)(1580,33)(1585,31)(1591,34)(1596,32)(1601,33)(1606,30)(1616,36)(1622,33)(1627,35)(1632,31)(1636,34)(1642,33)(1648,31)(1653,35)(1660,32)(1665,34)(1670,31)(1676,35)(1682,33)(1686,31)(1580,38)(1584,41)(1590,37)(1596,40)(1602,38)(1606,42)(1612,38)(1620,41)(1626,37)(1632,43)(1638,40)(1644,42)(1650,38)(1656,43)(1663,39)(1670,37)(1675,42)(1680,40)(1688,38)(1581,46)(1585,50)(1592,49)(1598,51)(1604,50)(1610,51)(1622,49)(1624,52)(1627,51)(1633,50)(1640,49)(1644,52)(1652,50)(1659,51)(1668,50)(1680,51)(1688,50)(1590,70)(1594,72)(1614,71)(1580,82)(1585,83)(1592,83)(1597,84)(1603,83)(1606,81)(1625,80)(1628,85)(1634,81)(1637,81)(1645,80)(1648,72)(1651,73)(1658,82)(1668,81)(1672,84)(1676,72)(1683,90)(1688,90)(1672,90)(1664,90)(1690,97)(1590,97)(1595,96)(1600,97)(1625,96)(1630,96)(1634,97)(1646,96)(1652,96)(1655,97)(1654,84)(1668,90)(1684,82)(1686,84)(1660,72)(1688,80)(1580,95)(1582,88)(1607,152)(1609,152)(1652,149)
(1581,272)(1584,277)(1588,274)(1594,271)(1597,276)(1603,273)(1606,279)(1611,272)(1616,275)(1619,271)(1625,277)(1628,273)(1634,279)(1637,272)(1641,275)(1647,271)(1650,278)(1655,274)(1660,272)(1663,279)(1668,275)(1673,272)(1677,278)(1681,274)(1686,271)(1689,277)(1579,282)(1583,285)(1587,281)(1592,288)(1596,283)(1601,280)(1605,286)(1610,283)(1613,290)(1618,282)(1622,287)(1627,284)(1631,280)(1636,289)(1640,283)(1645,287)(1649,281)(1654,291)(1657,284)(1661,288)(1666,282)(1670,286)(1675,290)(1679,283)(1683,287)(1688,284)(1690,290)(1580,293)(1585,296)(1589,291)(1594,298)(1599,293)(1603,297)(1608,292)(1612,299)(1617,295)(1621,292)(1624,298)(1630,294)(1633,300)(1638,296)(1643,293)(1646,299)(1651,295)(1656,297)(1659,293)(1664,300)(1667,295)(1672,298)(1676,293)(1680,297)(1685,294)(1689,299)(1579,303)(1582,306)(1587,301)(1590,308)(1595,304)(1600,309)(1604,303)(1609,306)(1615,302)(1619,308)(1623,304)(1626,310)(1631,306)(1635,302)(1640,308)(1644,305)(1648,301)(1652,309)(1655,305)(1658,302)(1662,306)(1665,311)(1670,304)(1674,308)(1678,302)(1682,306)(1686,310)(1690,304)(1580,313)(1584,310)(1588,316)(1593,312)(1598,318)(1602,313)(1607,317)(1610,311)(1614,319)(1620,314)(1623,318)(1628,312)(1632,316)(1637,320)(1642,313)(1646,317)(1650,312)(1653,319)(1657,315)(1661,320)(1666,314)(1669,318)(1673,312)(1677,317)(1681,314)(1685,319)(1689,315)(1581,323)(1585,327)(1590,321)(1594,325)(1597,331)(1602,324)(1606,328)(1611,322)(1617,326)(1621,331)(1625,324)(1630,328)(1634,323)(1639,330)(1643,325)(1647,321)(1651,328)(1655,324)(1660,331)(1664,326)(1668,322)(1672,329)(1677,325)(1681,331)(1685,323)(1689,328)(1580,335)(1586,338)(1591,334)(1596,337)(1601,333)(1609,336)(1614,340)(1619,335)(1626,338)(1631,334)(1637,337)(1645,335)(1649,339)(1655,334)(1661,337)(1666,333)(1671,338)(1676,335)(1682,339)(1688,335)(1583,347)(1590,349)(1598,346)(1607,349)(1616,347)(1627,346)(1640,348)(1652,346)(1664,349)(1677,347)(1686,348)(1580,353)(1585,351)(1592,355)(1599,352)(1605,356)(1613,353)(1621,351)(1628,355)(1634,352)(1641,356)(1648,351)(1653,354)(1659,356)(1666,352)(1672,355)(1679,351)(1685,355)(1690,352)(1583,360)(1589,358)(1595,362)(1603,359)(1610,363)(1617,360)(1622,364)(1629,361)(1635,359)(1640,363)(1645,361)(1651,364)(1656,359)(1662,362)(1667,364)(1673,360)(1678,363)(1684,359)(1688,363)};
\addplot[dotB=dpink] coordinates {(1333,590)(1336,592)(1343,587)(1345,590)(1348,593)(1360,589)(1363,590)(1366,592)(1331,595)(1336,598)(1347,593)(1365,594)(1364,597)(1331,602)(1334,603)(1338,601)(1362,600)(1365,604)(1333,607)(1348,603)(1345,607)(1356,609)(1360,607)(1364,608)(1347,612)(1344,610)(1352,608)(1364,612)(1333,617)(1342,618)(1348,619)(1352,620)(1356,621)(1362,617)(1330,622)(1330,626)(1345,621)(1347,623)(1351,625)(1355,623)(1361,622)(1349,629)(1353,630)(1346,631)(1335,636)(1336,640)(1334,644)(1338,642)(1348,640)(1358,641)(1361,643)(1363,638)(1365,636)(1360,646)(1362,648)(1333,649)(1336,653)(1343,653)(1360,651)(1363,650)(1332,660)(1337,660)(1342,661)(1345,660)(1349,662)(1355,663)(1358,661)(1362,658)(1351,665)(1354,667)(1358,668)(1331,670)(1335,671)(1341,672)(1352,671)(1356,669)(1360,669)(1365,668)(1366,670)(1338,675)(1344,676)(1355,675)(1336,686)(1347,686)(1349,689)(1364,686)(1366,685)(1351,693)(1354,693)(1364,694)(1360,698)(1356,700)(1353,701)(1364,698)(1343,710)(1332,720)(1334,721)(1349,720)(1361,720)(1365,721)(1355,731)(1362,741)(1330,720)
(1386,587)(1389,588)(1403,589)(1407,587)(1412,587)(1423,587)(1428,588)(1437,587)(1442,588)(1448,588)(1453,589)(1458,588)(1463,590)(1467,590)(1385,591)(1388,595)(1392,595)(1402,592)(1407,594)(1412,592)(1425,593)(1436,592)(1441,595)(1449,590)(1456,594)(1460,592)(1384,598)(1387,601)(1392,599)(1404,597)(1409,600)(1416,602)(1422,600)(1425,597)(1441,598)(1452,596)(1456,600)(1461,598)(1383,607)(1386,609)(1390,605)(1409,605)(1413,604)(1417,603)(1429,606)(1433,608)(1441,606)(1448,601)(1453,607)(1458,604)(1463,606)(1466,603)(1384,611)(1387,614)(1391,611)(1396,608)(1404,613)(1409,613)(1414,612)(1420,613)(1431,612)(1436,610)(1441,609)(1450,609)(1456,611)(1460,612)(1465,610)(1385,617)(1388,619)(1392,621)(1405,618)(1415,617)(1419,615)(1425,619)(1434,616)(1441,615)(1449,619)(1453,617)(1459,619)(1463,617)(1467,615)(1383,624)(1385,628)(1390,627)(1393,625)(1397,624)(1403,627)(1408,628)(1413,626)(1417,624)(1423,627)(1428,629)(1442,627)(1449,630)(1462,627)(1383,632)(1386,635)(1391,634)(1396,630)(1403,633)(1407,630)(1412,633)(1416,632)(1425,635)(1433,634)(1441,633)(1450,634)(1461,633)(1386,642)(1390,640)(1408,640)(1415,638)(1421,642)(1431,641)(1437,642)(1448,640)(1456,642)(1463,641)(1383,648)(1387,646)(1391,650)(1409,646)(1414,643)(1418,647)(1424,646)(1432,646)(1438,650)(1449,647)(1452,645)(1465,645)(1387,653)(1390,655)(1396,650)(1407,652)(1413,650)(1417,654)(1425,651)(1431,653)(1441,651)(1451,653)(1456,651)(1463,655)(1385,661)(1389,659)(1392,664)(1405,660)(1409,664)(1413,659)(1418,663)(1421,658)(1425,657)(1433,663)(1441,660)(1450,661)(1453,659)(1461,662)(1466,665)(1384,666)(1388,669)(1405,668)(1411,669)(1415,667)(1419,671)(1425,667)(1437,669)(1452,667)(1459,668)(1464,669)(1467,665)(1413,672)(1418,674)(1423,670)(1429,672)(1441,669)(1452,671)(1403,680)(1411,678)(1405,685)(1414,680)(1453,676)(1456,679)(1458,681)(1461,679)(1452,683)(1460,684)(1386,686)(1390,686)(1403,686)(1405,691)(1412,689)(1428,686)(1432,686)(1441,685)(1450,686)(1459,686)(1463,687)(1385,695)(1394,695)(1405,696)(1410,692)(1416,694)(1422,693)(1431,692)(1440,698)(1453,697)(1458,697)(1462,695)(1409,699)(1414,696)(1419,697)(1428,696)(1406,702)(1412,703)(1416,707)(1426,705)(1386,710)(1391,710)(1410,712)(1408,713)(1449,706)(1452,715)(1426,710)(1387,721)(1424,720)(1436,721)(1453,719)(1460,720)(1387,732)(1403,731)(1405,731)(1412,731)(1439,729)(1453,728)(1460,731)(1466,742)};
\addplot[dotB=dyellow] coordinates {(1694,639)(1718,648)(1767,605)(1787,601)(1752,636)(1770,635)(1783,640)(1799,636)(1692,702)(1714,671)(1711,702)(1710,707)(1731,654)(1735,650)(1742,650)(1748,656)(1756,655)(1762,656)(1768,656)(1773,655)(1779,655)(1785,652)(1791,656)(1795,652)(1733,658)(1727,658)(1745,660)(1733,671)(1737,672)(1741,673)(1745,672)(1749,671)(1753,673)(1762,671)(1766,673)(1771,672)(1776,670)(1780,671)(1785,672)(1790,670)(1795,672)(1799,673)(1733,678)(1737,680)(1742,678)(1747,680)(1758,679)(1764,678)(1769,680)(1773,678)(1778,680)(1784,678)(1789,680)(1794,678)(1799,680)(1733,685)(1741,686)(1746,688)(1750,686)(1759,687)(1764,688)(1770,685)(1775,688)(1780,686)(1785,688)(1790,686)(1795,688)(1799,685)(1732,693)(1737,695)(1753,694)(1758,696)(1763,693)(1768,695)(1773,694)(1778,696)(1783,694)(1788,695)(1793,694)(1798,696)(1733,702)(1748,702)(1754,700)(1759,703)(1765,701)(1770,703)(1775,701)(1780,703)(1785,701)(1790,703)(1795,701)(1799,703)(1736,710)(1741,708)(1748,711)(1755,709)(1760,711)(1766,708)(1771,711)(1776,709)(1781,711)(1786,708)(1791,711)(1796,709)(1733,717)(1740,718)(1744,716)(1750,718)(1756,717)(1761,719)(1767,716)(1772,718)(1777,717)(1782,719)(1787,716)(1793,718)(1798,716)(1726,726)(1733,725)(1738,727)(1743,725)(1749,727)(1754,725)(1760,727)(1766,725)(1771,727)(1778,725)(1784,727)(1790,725)(1796,727)(1735,734)(1741,732)(1746,735)(1752,733)(1757,735)(1762,732)(1768,735)(1775,733)(1782,735)(1788,733)(1794,735)(1799,733)(1737,741)(1744,743)(1750,741)(1756,743)(1762,741)(1770,743)(1778,743)(1784,741)(1790,743)(1796,742)(1799,745)(1746,746)(1760,746)(1785,746)(1709,721)(1710,725)(1716,721)(1712,725)(1709,739)(1712,740)(1716,740)(1710,736)};
\end{axis}
% ---------- Panel C and free text, coordinates in reference pixels
\begin{axis}[hide axis,scale only axis,at={(0pt,-797.5pt)},width=972pt,height=797.5pt,
 xmin=0,xmax=1944,ymin=0,ymax=1595,y dir=reverse,clip=false]
\node[font=\fontsize{27.5}{30}\selectfont,anchor=base,inner sep=0pt] at (axis cs:18,41) {A};
\node[font=\fontsize{27.5}{30}\selectfont,anchor=base,inner sep=0pt] at (axis cs:982,41) {B};
\node[font=\fontsize{27.5}{30}\selectfont,anchor=base,inner sep=0pt] at (axis cs:35,962) {C};
\node[font=\ticksz,anchor=center,inner sep=0pt] at (axis cs:96,17) {106.8Mb};
\node[font=\ticksz,anchor=center,inner sep=0pt] at (axis cs:940,805) {168.9Mb};
\node[font=\ticksz,anchor=center,inner sep=0pt] at (axis cs:1061,14) {392.7Mb};
\node[font=\ticksz,anchor=center,inner sep=0pt] at (axis cs:1909,805) {168.9Mb};
\node[font=\fontsize{22.1}{24}\selectfont,anchor=base west,inner sep=0pt] at (axis cs:120,995.7) {OBSERVED KARYOTYPES};
\node[font=\fontsize{22.1}{24}\selectfont,anchor=base west,inner sep=0pt] at (axis cs:120,1319) {SYNTENY BLOCKS};
% observed row 1
\chrbar{122.4}{384}{1044}{cblue}\chrbar{400.5}{597}{1044}{cred}\chrbar{613.5}{752.5}{1044}{cpink}\chrbar{769}{908}{1044}{corange}\chrbar{925}{1042.6}{1044}{cyellow}\chrbar{1059}{1134}{1044}{cgreen}\chrbar{1150}{1225}{1044}{cteal}\chrbar{1241.7}{1297}{1044}{cnavy}\chrbar{1318}{1393}{1044}{cpurple}
\barlabel{247.4}{1044}{1}\barlabel{499.4}{1044}{2}\barlabel{683}{1044}{3}\barlabel{838.6}{1044}{4}\barlabel{982}{1044}{5}\barlabel{1095}{1044}{6}\barlabel{1186}{1044}{7}\barlabel{1269}{1044}{8}\barlabel{1350.8}{1044}{9}
% observed row 2
\chrbar{122.4}{440}{1133}{cblue}\chrbar{122.4}{177.3}{1133}{cnavy}\chrbar{467.5}{606.5}{1133}{cpink}\chrbar{633}{772}{1133}{corange}\chrbar{799}{995.5}{1133}{cred}\chrbar{1040}{1215.7}{1133}{cyellow}\chrbar{1022.3}{1097.7}{1133}{cteal}\chrbar{1270}{1394}{1133}{cpurple}\chrbar{1243}{1317.8}{1133}{cgreen}
\barlabel{283.8}{1133}{1}\barlabel{535}{1133}{2}\barlabel{701.5}{1133}{3}\barlabel{898}{1133}{4}\barlabel{1118.7}{1133}{5}\barlabel{1323.5}{1133}{6}
% observed row 3
\chrbar{300}{394.8}{1222}{cred}\chrbar{160}{336}{1222}{corange}\chrbar{122.4}{197}{1222}{cteal}\chrbar{415.8}{546.6}{1222}{cblue}\chrbar{567.6}{697}{1222}{cred}\chrbar{717.5}{848.9}{1222}{cblue}\chrbar{869.3}{924.7}{1222}{cnavy}\chrbar{945}{1020.4}{1222}{cgreen}\chrbar{1041.3}{1115.5}{1222}{cpurple}\chrbar{1137}{1270}{1222}{cyellow}\chrbar{1249.3}{1394}{1222}{cpink}
\barlabel{262}{1222}{1}\barlabel{479.6}{1222}{2}\barlabel{631.4}{1222}{3}\barlabel{782.5}{1222}{4}\barlabel{894.8}{1222}{5}\barlabel{982}{1222}{6}\barlabel{1076.8}{1222}{7}\barlabel{1255.6}{1222}{ZW}
% species
\node[font=\spsz,anchor=base west,inner sep=0pt] at (axis cs:1406,1056) {Echinococcus multilocularis};
\node[font=\spsz,anchor=base west,inner sep=0pt] at (axis cs:1406,1140.7) {Hymenolepis microstoma};
\node[font=\spsz,anchor=base west,inner sep=0pt] at (axis cs:1405,1235) {Schistosoma mansoni};
\node[font=\spsz,anchor=base west,inner sep=0pt] at (axis cs:1406,1415.7) {Echinococcus multilocularis};
\node[font=\spsz,anchor=base west,inner sep=0pt] at (axis cs:1406,1499) {Hymenolepis microstoma};
\node[font=\spsz,anchor=base west,inner sep=0pt] at (axis cs:1405,1575) {Schistosoma mansoni};
% block letters
\node[font=\fontsize{21}{24}\selectfont,anchor=base,inner sep=0pt] at (axis cs:265,1364) {A};
\node[font=\fontsize{21}{24}\selectfont,anchor=base,inner sep=0pt] at (axis cs:511.5,1364) {B};
\node[font=\fontsize{21}{24}\selectfont,anchor=base,inner sep=0pt] at (axis cs:684,1364) {C};
\node[font=\fontsize{21}{24}\selectfont,anchor=base,inner sep=0pt] at (axis cs:809,1364) {D};
\node[font=\fontsize{21}{24}\selectfont,anchor=base,inner sep=0pt] at (axis cs:891,1364) {E};
\node[font=\fontsize{21}{24}\selectfont,anchor=base,inner sep=0pt] at (axis cs:966,1360.7) {F};
\node[font=\fontsize{21}{24}\selectfont,anchor=base,inner sep=0pt] at (axis cs:1064,1364) {G};
\node[font=\fontsize{21}{24}\selectfont,anchor=base,inner sep=0pt] at (axis cs:1190,1364) {H};
\node[font=\fontsize{21}{24}\selectfont,anchor=base,inner sep=0pt] at (axis cs:1332,1360.7) {I};
% synteny row 1
\chrbar{122.4}{384}{1407.7}{cblue}\chrbar{400.5}{596.3}{1407.7}{cred}\chrbar{612.2}{751.3}{1407.7}{corange}\chrbar{767.9}{842.5}{1407.7}{cteal}\chrbar{859}{914.5}{1407.7}{cnavy}\chrbar{930.5}{1005}{1407.7}{cgreen}\chrbar{1021}{1096.5}{1407.7}{cpurple}\chrbar{1111.7}{1251.8}{1407.7}{cpink}\chrbar{1267}{1386.3}{1407.7}{cyellow}
\barlabel{248.7}{1407.7}{1A}\barlabel{497}{1407.7}{2B}\barlabel{682}{1407.7}{4C}\barlabel{806}{1407.7}{7D}\barlabel{886}{1407.7}{8E}\barlabel{967.5}{1407.7}{6F}\barlabel{1057.8}{1407.7}{9G}\barlabel{1180}{1407.7}{3H}\barlabel{1325.4}{1407.7}{5I}
% synteny row 2
\chrbar{122.4}{384}{1492.5}{cblue}\chrbar{400.5}{596.3}{1492.5}{cred}\chrbar{612.2}{751.3}{1492.5}{corange}\chrbar{767.9}{842.5}{1492.5}{cteal}\chrbar{859}{914.5}{1492.5}{cnavy}\chrbar{930.5}{1005}{1492.5}{cgreen}\chrbar{1021}{1096.5}{1492.5}{cpurple}\chrbar{1111.7}{1251.8}{1492.5}{cpink}\chrbar{1267}{1386.3}{1492.5}{cyellow}
\barlabel{248.7}{1492.5}{1A}\barlabel{499}{1492.5}{4B}\barlabel{682}{1492.5}{3C}\barlabel{806}{1492.5}{5D}\barlabel{886}{1492.5}{1E}\barlabel{967.5}{1492.5}{6F}\barlabel{1057.8}{1492.5}{6G}\barlabel{1180}{1492.5}{2H}\barlabel{1325.4}{1492.5}{5I}
% synteny row 3
\chrbar{122.4}{252}{1567}{cblue}\chrbar{255}{384}{1567}{cblue}\chrbar{400}{473}{1567}{cred}\chrbar{477}{596.3}{1567}{cred}\chrbar{612.2}{751.3}{1567}{corange}\chrbar{767.9}{842.5}{1567}{cteal}\chrbar{859}{914.5}{1567}{cnavy}\chrbar{930.5}{1005}{1567}{cgreen}\chrbar{1021}{1096.5}{1567}{cpurple}\chrbar{1111.7}{1251.8}{1567}{cpink}\chrbar{1267}{1386.3}{1567}{cyellow}
\barlabel{184}{1567}{2A}\barlabel{319}{1567}{4A}\barlabel{435.6}{1567}{1B}\barlabel{534.4}{1567}{3B}\barlabel{682}{1567}{1C}\barlabel{806}{1567}{1D}\barlabel{886}{1567}{5E}\barlabel{967.5}{1567}{6F}\barlabel{1057.8}{1567}{7G}\barlabel{1184}{1567}{ZW H}\barlabel{1326.7}{1567}{ZW I}
\end{axis}
\end{tikzpicture}
\end{document}
